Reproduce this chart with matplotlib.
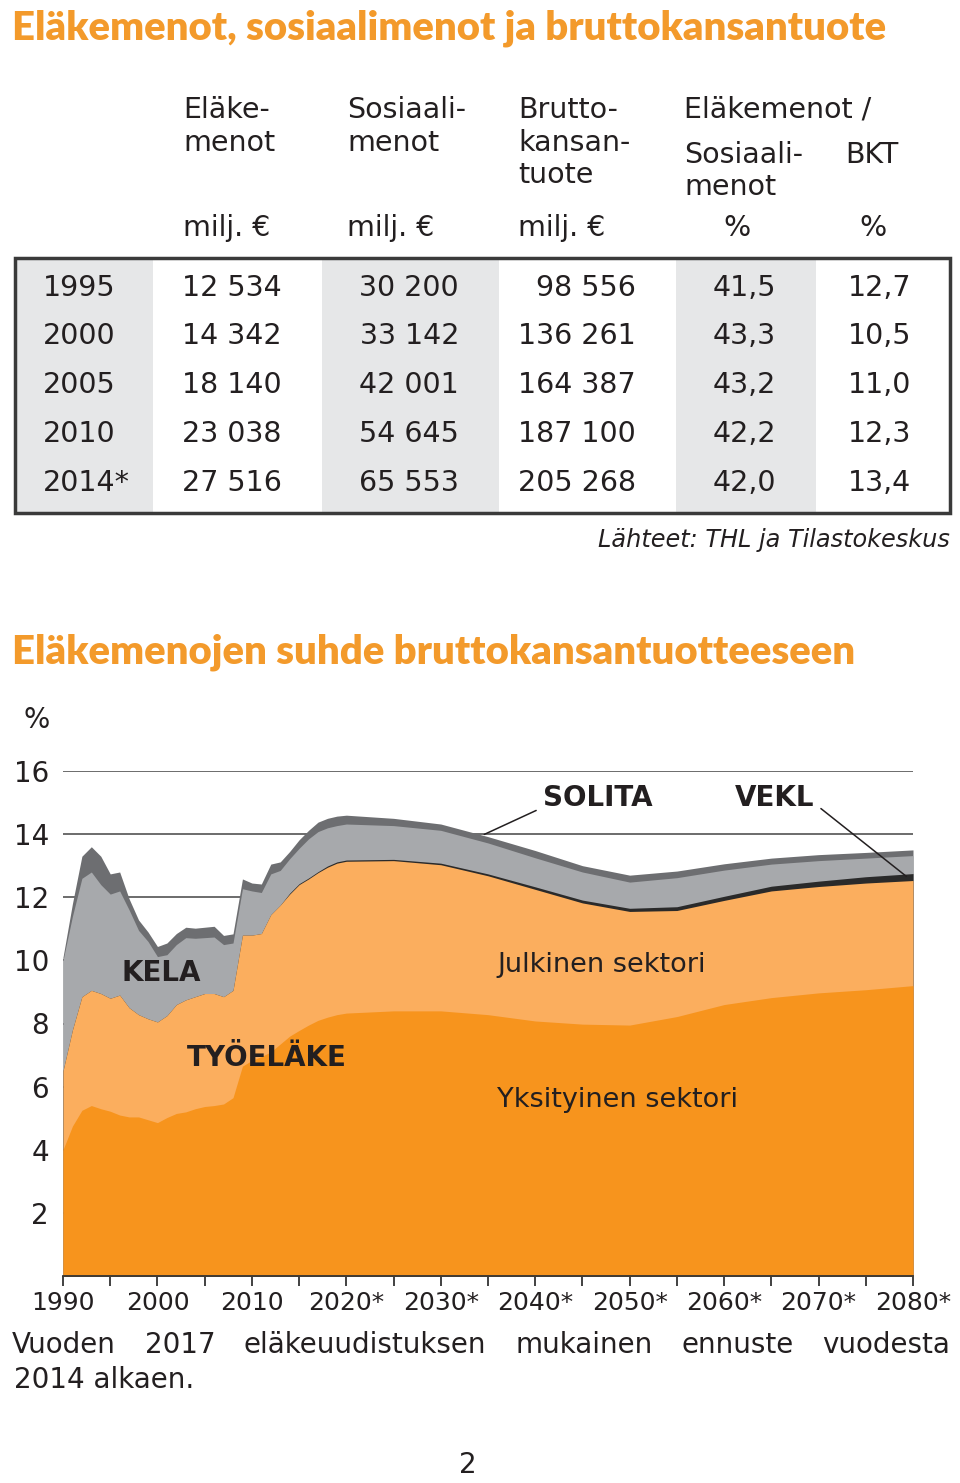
"""
Eläkemenot, sosiaalimenot ja BKT: table + stacked area chart of
pension expenditure relative to GDP (1990-2080).
"""

import numpy as np
import matplotlib
matplotlib.use("Agg")
import matplotlib.pyplot as plt
from matplotlib.patches import Rectangle

W, H = 960, 1483

# ---- table data ----
table_years = ['1995', '2000', '2005', '2010', '2014*']
elakemenot = ['12 534', '14 342', '18 140', '23 038', '27 516']
sosiaalimenot = ['30 200', '33 142', '42 001', '54 645', '65 553']
bkt = ['98 556', '136 261', '164 387', '187 100', '205 268']
osuus_sosiaali = ['41,5', '43,3', '43,2', '42,2', '42,0']
osuus_bkt = ['12,7', '10,5', '11,0', '12,3', '13,4']

# ---- chart data (% of GDP) ----
years = list(range(1990, 2021)) + list(range(2025, 2081, 5))
yksityinen = [4.0, 4.75, 5.25, 5.4, 5.3, 5.22, 5.1, 5.04, 5.04, 4.95,
              4.86, 5.02, 5.15, 5.2, 5.3, 5.37, 5.4, 5.45, 5.65, 6.65,
              6.83, 6.95, 7.1, 7.35, 7.6, 7.78, 7.95, 8.1, 8.2, 8.28,
              8.33, 8.4, 8.4, 8.28, 8.08, 7.98, 7.95, 8.22, 8.6, 8.82,
              8.97, 9.07, 9.2]
julkinen = [2.5, 3.05, 3.6, 3.65, 3.65, 3.58, 3.8, 3.46, 3.24, 3.2,
            3.19, 3.23, 3.45, 3.55, 3.55, 3.58, 3.55, 3.4, 3.4, 4.15,
            3.97, 3.9, 4.35, 4.4, 4.5, 4.62, 4.63, 4.68, 4.75, 4.8,
            4.81, 4.76, 4.63, 4.4, 4.17, 3.84, 3.6, 3.36, 3.3, 3.38,
            3.37, 3.38, 3.33]
vekl = [0] * 24 + [0.03, 0.03, 0.03, 0.03, 0.04, 0.04, 0.04, 0.04,
                   0.05, 0.06, 0.08, 0.09, 0.1, 0.12, 0.13, 0.15, 0.17,
                   0.2, 0.22]
kela = [3.5, 3.6, 3.75, 3.75, 3.45, 3.3, 3.3, 3.1, 2.67, 2.45,
        2.07, 1.93, 1.9, 1.97, 1.85, 1.77, 1.79, 1.65, 1.5, 1.47,
        1.4, 1.3, 1.29, 1.1, 1.09, 1.12, 1.24, 1.27, 1.21, 1.15,
        1.14, 1.07, 1.04, 0.98, 0.92, 0.89, 0.83, 0.92, 0.83, 0.7,
        0.65, 0.59, 0.57]
solita = [0.1, 0.4, 0.7, 0.8, 0.9, 0.64, 0.6, 0.35, 0.33, 0.3,
          0.32, 0.37, 0.35, 0.33, 0.32, 0.33, 0.34, 0.29, 0.29, 0.31,
          0.25, 0.27, 0.31, 0.27, 0.23, 0.27, 0.27, 0.3, 0.3, 0.3,
          0.28, 0.23, 0.2, 0.2, 0.23, 0.2, 0.22, 0.21, 0.2, 0.19,
          0.19, 0.18, 0.18]

x_labels = ['1990', '2000', '2010', '2020*', '2030*', '2040*', '2050*',
            '2060*', '2070*', '2080*']

ORANGE = '#F7941D'
ORANGE_LIGHT = '#FBAE5E'
GREY = '#A7A9AC'
GREY_DARK = '#6D6E71'
VEKL_C = '#2A2A2A'
TITLE_C = '#F39A2B'
TEXT_C = '#231F20'
SHADE = '#E6E7E8'
BODY = 'DejaVu Sans'
HEAD = ['Lato', 'DejaVu Sans']

fig = plt.figure(figsize=(W / 100, H / 100), dpi=100)
page = fig.add_axes([0, 0, 1, 1])
page.set_xlim(0, W)
page.set_ylim(H, 0)
page.axis('off')


def fit(t, width):
    # scale font so the text is `width` pixels wide
    r = fig.canvas.get_renderer()
    w = t.get_window_extent(r).width
    t.set_fontsize(t.get_fontsize() * width / w)


def justify(words, y, x0, x1, **kw):
    texts = [page.text(0, y, w, va='center', **kw) for w in words]
    r = fig.canvas.get_renderer()
    widths = [t.get_window_extent(r).width for t in texts]
    gap = (x1 - x0 - sum(widths)) / (len(words) - 1)
    x = x0
    for t, w in zip(texts, widths):
        t.set_x(x)
        x += w + gap


# ---- titles ----
t = page.text(12, 28, 'Eläkemenot, sosiaalimenot ja bruttokansantuote',
              family=HEAD, weight='heavy', color=TITLE_C, fontsize=26,
              va='center')
fit(t, 875)
t = page.text(12, 652, 'Eläkemenojen suhde bruttokansantuotteeseen',
              family=HEAD, weight='heavy', color=TITLE_C, fontsize=26,
              va='center')
fit(t, 843)

# ---- table ----
fs = 20.5
for x0, x1 in [(15, 153), (322, 499), (676, 816)]:
    page.add_patch(Rectangle((x0, 258), x1 - x0, 255, color=SHADE, lw=0))
page.add_patch(Rectangle((15, 258), 935, 255, fill=False,
                         edgecolor='#3A3A3A', lw=2.5))

head = dict(fontsize=fs, color=TEXT_C, family=BODY, va='center')
page.text(183, 110, 'Eläke-', **head)
page.text(183, 143, 'menot', **head)
page.text(347, 110, 'Sosiaali-', **head)
page.text(347, 143, 'menot', **head)
page.text(518, 110, 'Brutto-', **head)
page.text(518, 143, 'kansan-', **head)
page.text(518, 175, 'tuote', **head)
page.text(684, 110, 'Eläkemenot /', **head)
page.text(684, 155, 'Sosiaali-', **head)
page.text(684, 187, 'menot', **head)
page.text(845, 155, 'BKT', **head)
for x in (183, 347, 518):
    page.text(x, 228, 'milj. €', **head)
page.text(737, 228, '%', ha='center', **head)
page.text(873, 228, '%', ha='center', **head)

row_y = [288, 336, 385, 434, 483]
cols = [(elakemenot, 282), (sosiaalimenot, 459), (bkt, 636),
        (osuus_sosiaali, 776), (osuus_bkt, 911)]
for i, y in enumerate(row_y):
    page.text(43, y, table_years[i], **head)
    for vals, xr in cols:
        page.text(xr, y, vals[i], ha='right', **head)

t = page.text(950, 540, 'Lähteet: THL ja Tilastokeskus', ha='right',
              va='center', style='italic', color=TEXT_C, family=BODY,
              fontsize=18)
fit(t, 353)

# ---- chart ----
ax = fig.add_axes([63 / W, 1 - 1276 / H, 850 / W, (1276 - 771) / H])
layers = [yksityinen, julkinen, vekl, kela, solita]
colors = [ORANGE, ORANGE_LIGHT, VEKL_C, GREY, GREY_DARK]
cum = np.cumsum(np.array(layers), axis=0)
for i in range(len(layers) - 1, -1, -1):
    ax.fill_between(years, 0, cum[i], color=colors[i], lw=0, zorder=2)

ax.set_xlim(1990, 2080)
ax.set_ylim(0, 16)
ax.set_yticks(range(2, 17, 2))
ax.set_yticklabels([str(v) for v in range(2, 17, 2)])
ax.grid(axis='y', color='#444444', lw=1.1, zorder=0)
ax.set_axisbelow(True)
ax.tick_params(axis='y', length=0, pad=10, labelsize=20, labelcolor=TEXT_C)
ax.set_xticks(range(1990, 2081, 10))
ax.set_xticks(range(1995, 2080, 10), minor=True)
ax.set_xticklabels(x_labels)
ax.tick_params(axis='x', which='both', direction='out', length=7, width=1.3,
               color='#333333', labelsize=18, labelcolor=TEXT_C, pad=4)
for s in ('top', 'right', 'left'):
    ax.spines[s].set_visible(False)
ax.spines['bottom'].set_color('#333333')
ax.spines['bottom'].set_linewidth(1.3)
ax.patch.set_alpha(0)

lab = dict(fontsize=20, weight='bold', color=TEXT_C, va='center', zorder=5)
ax.text(2000.4, 9.59, 'KELA', ha='center', **lab)
ax.text(2011.6, 6.9, 'TYÖELÄKE', ha='center', **lab)
ax.text(2046.6, 15.13, 'SOLITA', ha='center', **lab)
ax.text(2065.3, 15.13, 'VEKL', ha='center', **lab)
sek = dict(fontsize=19.5, color=TEXT_C, va='center', zorder=5)
ax.text(2036.0, 9.84, 'Julkinen sektori', ha='left', **sek)
ax.text(2036.0, 5.57, 'Yksityinen sektori', ha='left', **sek)
line = dict(arrowstyle='-', lw=1.1, color=TEXT_C, shrinkA=0, shrinkB=0)
ax.annotate('', xy=(2034.6, 13.99), xytext=(2040.1, 14.75),
            arrowprops=line, zorder=5)
ax.annotate('', xy=(2079.3, 12.66), xytext=(2070.25, 14.81),
            arrowprops=line, zorder=5)

page.text(37, 720, '%', ha='center', va='center', fontsize=20,
          color=TEXT_C, family=BODY)

# ---- footnote ----
justify(['Vuoden', '2017', 'eläkeuudistuksen', 'mukainen', 'ennuste',
         'vuodesta'], 1345, 12, 950, fontsize=20, color=TEXT_C, family=BODY)
page.text(14, 1380, '2014 alkaen.', va='center', fontsize=20, color=TEXT_C,
          family=BODY)

page.text(468, 1465, '2', ha='center', va='center', fontsize=20,
          color=TEXT_C, family=BODY)

fig.savefig('out.png', dpi=100)
